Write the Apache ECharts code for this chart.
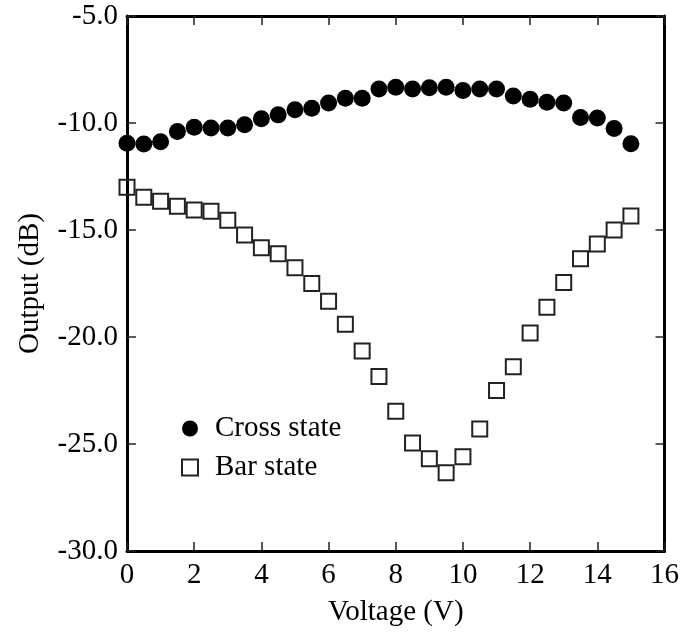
<!DOCTYPE html>
<html>
<head>
<meta charset="utf-8">
<script src="https://cdn.jsdelivr.net/npm/echarts@6/dist/echarts.min.js"></script>
<style>
html,body{margin:0;padding:0;background:#fff;}
#chart{width:682px;height:632px;}
</style>
</head>
<body>
<div id="chart"></div>
<script>
const voltage = [0,0.5,1,1.5,2,2.5,3,3.5,4,4.5,5,5.5,6,6.5,7,7.5,8,8.5,9,9.5,10,10.5,11,11.5,12,12.5,13,13.5,14,14.5,15];
const crossState = [-10.95,-10.98,-10.88,-10.4,-10.2,-10.23,-10.23,-10.08,-9.8,-9.62,-9.38,-9.31,-9.07,-8.84,-8.84,-8.41,-8.33,-8.41,-8.35,-8.33,-8.48,-8.41,-8.41,-8.74,-8.89,-9.03,-9.07,-9.74,-9.77,-10.26,-10.97];
const barState = [-13.0,-13.47,-13.66,-13.89,-14.07,-14.12,-14.54,-15.23,-15.83,-16.11,-16.76,-17.5,-18.33,-19.4,-20.65,-21.85,-23.47,-24.95,-25.69,-26.34,-25.6,-24.3,-22.5,-21.39,-19.81,-18.61,-17.45,-16.34,-15.65,-15.0,-14.35];
const xTicks = [0,2,4,6,8,10,12,14,16];
const yTicks = [-30,-25,-20,-15,-10,-5];
const seriesNames = ['Cross state','Bar state'];

const FONT = '"Liberation Serif", "Times New Roman", serif';
const FS = 29;
const chart = echarts.init(document.getElementById('chart'), null, {renderer:'canvas'});

const baseX = {
  type:'value', min:xTicks[0], max:xTicks[xTicks.length-1], interval:2,
  axisLine:{show:true, onZero:false, lineStyle:{color:'#000', width:3}},
  axisTick:{show:true, inside:true, length:9, lineStyle:{color:'#222', width:1.5}},
  splitLine:{show:false}
};
const baseY = {
  type:'value', min:yTicks[0], max:yTicks[yTicks.length-1], interval:5,
  axisLine:{show:true, onZero:false, lineStyle:{color:'#000', width:3}},
  axisTick:{show:true, inside:true, length:9, lineStyle:{color:'#222', width:1.5}},
  splitLine:{show:false}
};

chart.setOption({
  animation:false,
  backgroundColor:'#fff',
  grid:{left:127, right:17, top:16, bottom:77, containLabel:false},
  legend:{
    left:176, top:409, orient:'vertical', itemGap:10,
    itemWidth:16, itemHeight:16,
    textStyle:{fontFamily:FONT, fontSize:FS, color:'#000', padding:[0,0,0,12]},
    data:seriesNames
  },
  xAxis:[
    Object.assign({}, baseX, {
      position:'bottom',
      name:'Voltage (V)', nameLocation:'middle', nameGap:47,
      nameTextStyle:{fontFamily:FONT, fontSize:FS, color:'#000'},
      axisLabel:{show:true, margin:10, fontFamily:FONT, fontSize:FS, color:'#000',
                 formatter:v=>String(v)}
    }),
    Object.assign({}, baseX, {position:'top', axisLabel:{show:false}})
  ],
  yAxis:[
    Object.assign({}, baseY, {
      position:'left',
      name:'Output (dB)', nameLocation:'middle', nameGap:82, nameRotate:90,
      nameTextStyle:{fontFamily:FONT, fontSize:FS, color:'#000'},
      axisLabel:{show:true, margin:9, fontFamily:FONT, fontSize:FS, color:'#000',
                 padding:[0,0,4,0],
                 formatter:v=>v.toFixed(1)}
    }),
    Object.assign({}, baseY, {position:'right', axisLabel:{show:false}})
  ],
  series:[
    {
      name:seriesNames[0], type:'scatter', xAxisIndex:0, yAxisIndex:0,
      symbol:'circle', symbolSize:17,
      itemStyle:{color:'#000', opacity:1},
      data:voltage.map((v,i)=>[v, crossState[i]]),
      z:3
    },
    {
      name:seriesNames[1], type:'scatter', xAxisIndex:0, yAxisIndex:0,
      symbol:'rect', symbolSize:15,
      itemStyle:{color:'rgba(255,255,255,0)', borderColor:'#222', borderWidth:2, opacity:1},
      data:voltage.map((v,i)=>[v, barState[i]]),
      z:2
    }
  ]
});
</script>
</body>
</html>
